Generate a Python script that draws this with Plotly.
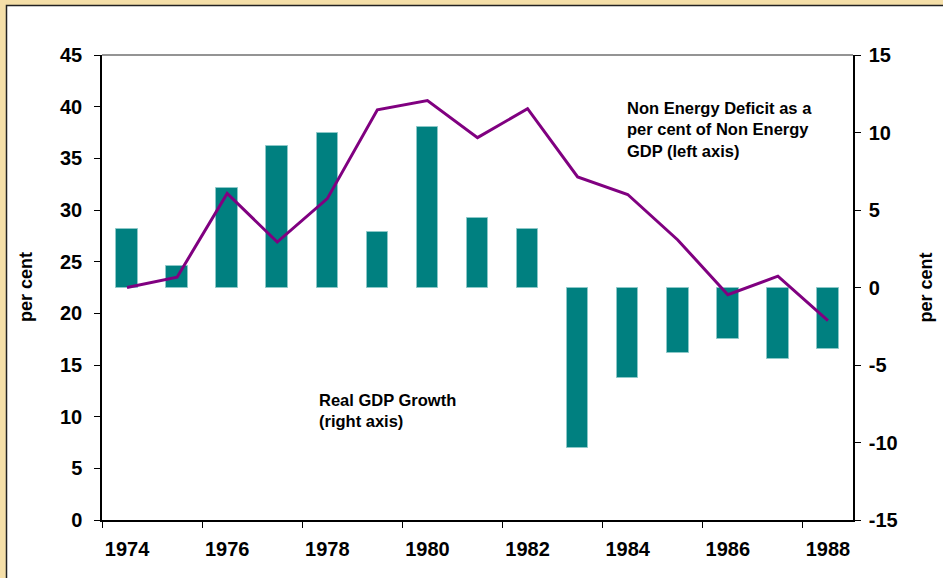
import plotly.graph_objects as go

years = list(range(1974, 1989))
gdp_growth = [3.8, 1.4, 6.4, 9.15, 10.0, 3.55, 10.35, 4.5, 3.8, -10.35, -5.85, -4.2, -3.3, -4.6, -3.95]
non_energy_deficit = [22.5, 23.5, 31.6, 26.9, 31.1, 39.7, 40.6, 37.0, 39.8, 33.2, 31.5, 27.1, 21.8, 23.6, 19.3]
x_labels = [str(y) for y in range(1974, 1989, 2)]
left_ticks = list(range(0, 46, 5))
right_ticks = list(range(-15, 16, 5))
right_labels = [str(v) for v in right_ticks]

W, H = 943, 578
L, R, T, B = 102, 90, 55, 58
pw, ph = W - L - R, H - T - B

def px_x(px):
    return (px - L) / pw

def px_y(py):
    return (H - B - py) / ph

FONT = "Arial, Liberation Sans, sans-serif"

fig = go.Figure()
fig.add_trace(go.Bar(
    x=years, y=gdp_growth, yaxis="y", width=0.43,
    marker=dict(color="#008080", line=dict(color="#8cc8c8", width=1)),
    name="Real GDP Growth", showlegend=False,
))
fig.add_trace(go.Scatter(
    x=years, y=non_energy_deficit, yaxis="y2", mode="lines",
    line=dict(color="#800080", width=3),
    name="Non Energy Deficit", showlegend=False,
))

tickfont = dict(family=FONT, size=20, color="black", weight="bold")

fig.update_layout(
    width=W, height=H,
    margin=dict(l=L, r=R, t=T, b=B, pad=0),
    paper_bgcolor="#F5DFA8",
    plot_bgcolor="white",
    font=dict(family=FONT, color="black"),
    bargap=0,
    xaxis=dict(
        range=[1973.5, 1988.5],
        tickmode="array", tickvals=list(range(1974, 1989, 2)), ticktext=x_labels,
        ticks="", tickfont=tickfont,
        showgrid=False, zeroline=False,
        showline=True, linecolor="black", linewidth=1.5,
        minor=dict(tickmode="array", tickvals=[1973.5 + 2 * k for k in range(8)],
                   ticks="outside", ticklen=6, tickcolor="black", tickwidth=1.3, showgrid=False),
        ticklabelstandoff=10,
    ),
    yaxis=dict(
        side="right", range=[-15, 15], tickmode="array", tickvals=right_ticks, ticktext=right_labels,
        ticks="outside", ticklen=6, tickcolor="black", tickwidth=1.3,
        tickfont=tickfont, showgrid=False, zeroline=False,
        showline=True, linecolor="black", linewidth=1.5,
        ticklabelstandoff=4,
    ),
    yaxis2=dict(
        side="left", overlaying="y", range=[0, 45], tickmode="array", tickvals=left_ticks,
        ticks="outside", ticklen=6, tickcolor="black", tickwidth=1.3,
        tickfont=tickfont, showgrid=False, zeroline=False,
        showline=True, linecolor="black", linewidth=1.5,
        ticklabelstandoff=8,
    ),
)

# white chart frame over textured background
fig.add_shape(type="rect", xref="paper", yref="paper", layer="below",
              x0=px_x(6.5), x1=px_x(960), y0=px_y(5.5), y1=px_y(600),
              fillcolor="white", line=dict(color="#222222", width=1.5))
# grey top border of plot area
fig.add_shape(type="line", xref="paper", yref="paper",
              x0=0, x1=1, y0=1, y1=1, line=dict(color="#707070", width=1.5))

fig.add_annotation(xref="paper", yref="paper", x=px_x(25.5), y=0.5, text="<b>per cent</b>",
                   textangle=-90, showarrow=False, font=dict(family=FONT, size=18),
                   xanchor="center", yanchor="middle")
fig.add_annotation(xref="paper", yref="paper", x=px_x(925), y=0.5, text="<b>per cent</b>",
                   textangle=-90, showarrow=False, font=dict(family=FONT, size=18),
                   xanchor="center", yanchor="middle")
fig.add_annotation(xref="paper", yref="paper", x=px_x(625), y=px_y(97),
                   text="<b>Non Energy Deficit as a<br>per cent of Non Energy<br>GDP (left axis)</b>",
                   showarrow=False, align="left", xanchor="left", yanchor="top",
                   font=dict(family=FONT, size=16.5))
fig.add_annotation(xref="paper", yref="paper", x=px_x(317), y=px_y(389),
                   text="<b>Real GDP Growth<br>(right axis)</b>",
                   showarrow=False, align="left", xanchor="left", yanchor="top",
                   font=dict(family=FONT, size=16.5))

fig.write_html("out.html", config={"displayModeBar": False},
               post_script="document.body.style.margin='0';document.body.style.overflow='hidden';")
